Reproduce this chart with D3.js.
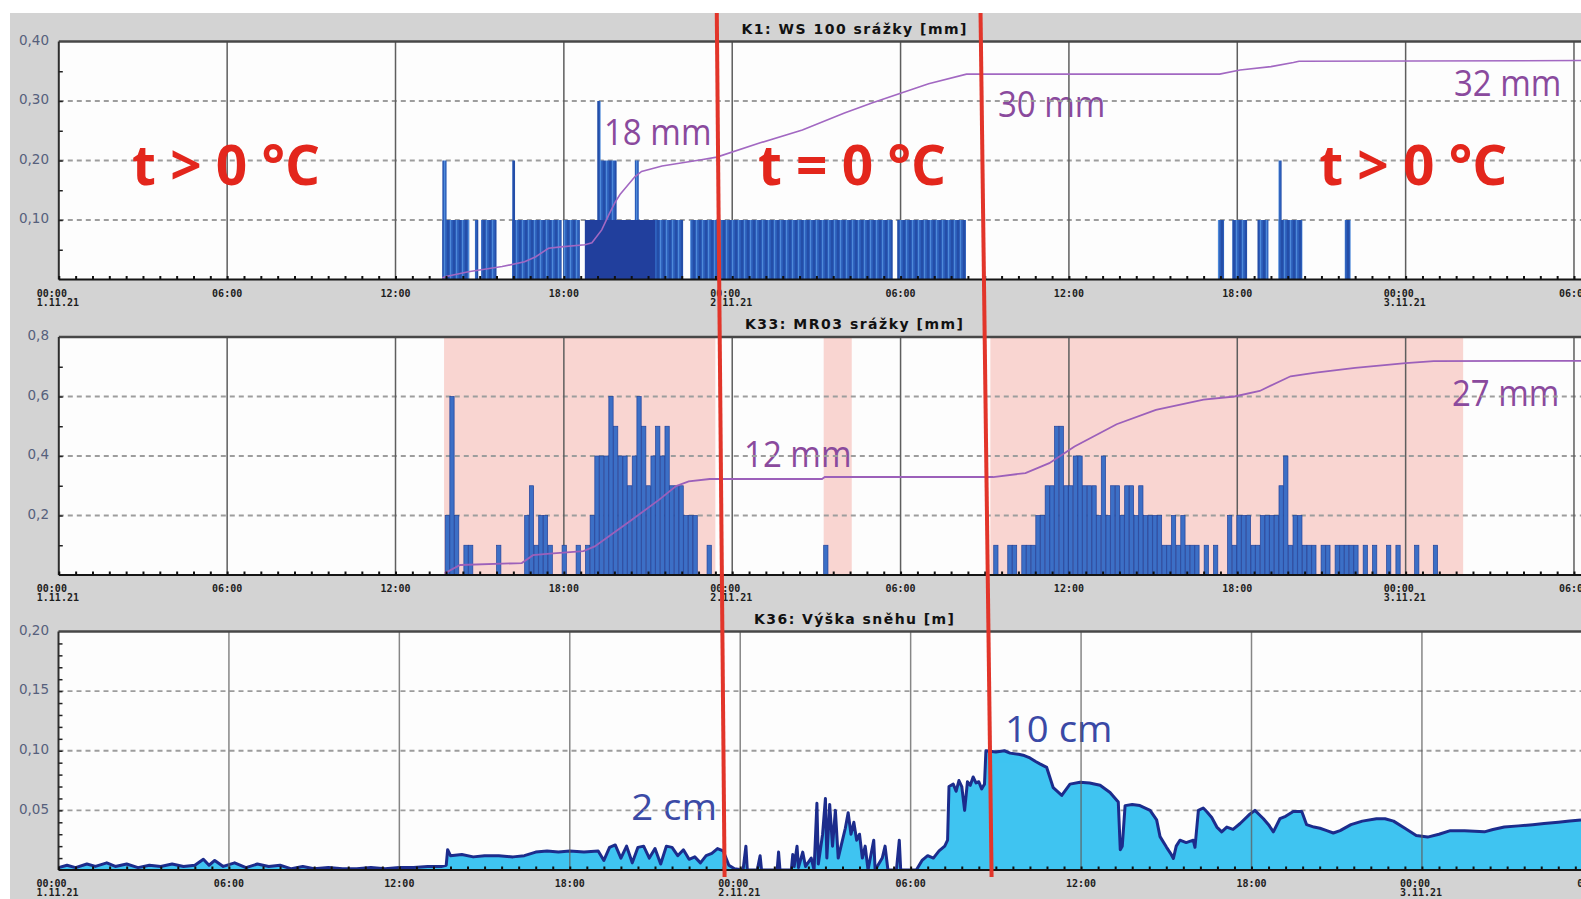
<!DOCTYPE html>
<html>
<head>
<meta charset="utf-8">
<script src="https://cdn.jsdelivr.net/npm/d3@7"></script>
<style>
  body { margin: 0; background: #fff; }
  svg { display: block; }
</style>
</head>
<body>
<svg id="chart"></svg>
<script>
// ---- data (hours counted from 1.11.21 00:00) ----
const titles = ["K1: WS 100 srážky [mm]", "K33: MR03 srážky [mm]", "K36: Výška sněhu [m]"];

const xTickHours = [0, 6, 12, 18, 24, 30, 36, 42, 48, 54];
const xTickTimes = ["00:00", "06:00", "12:00", "18:00", "00:00", "06:00", "12:00", "18:00", "00:00", "06:00"];
const xTickDates = ["1.11.21", "", "", "", "2.11.21", "", "", "", "3.11.21", ""];

const yTicksK1 = [0.1, 0.2, 0.3, 0.4];
const yTicksK33 = [0.2, 0.4, 0.6, 0.8];
const yTicksK36 = [0.05, 0.10, 0.15, 0.20];

// K1 rain gauge: runs of bars [from h, to h, value mm]
const k1Runs = [
  [13.67, 13.82, 0.2], [16.16, 16.26, 0.2], [19.19, 19.31, 0.3], [19.23, 19.88, 0.2],
  [20.53, 20.67, 0.2], [43.47, 43.58, 0.2],
  [13.67, 14.63, 0.1], [14.83, 14.95, 0.1], [15.05, 15.6, 0.1], [16.16, 17.92, 0.1],
  [17.98, 18.57, 0.1], [18.75, 22.25, 0.1], [22.5, 29.72, 0.1], [29.88, 32.33, 0.1],
  [41.31, 41.53, 0.1], [41.82, 42.35, 0.1], [42.72, 43.11, 0.1], [43.47, 44.32, 0.1],
  [45.83, 46.04, 0.1]
];
const k1DenseRuns = [[18.75, 21.25, 0.1]];
// K1 cumulative sum [h, mm]
const k1Cum = [
  [13.67, 0.2], [13.76, 0.4], [14.6, 1.15], [15.8, 1.9], [16.6, 2.6], [17.0, 3.35],
  [17.45, 4.6], [17.9, 4.8], [18.75, 5.1], [19.0, 5.4], [19.35, 7.3], [19.6, 9.5],
  [19.82, 11.3], [20.0, 12.5], [20.53, 15.1], [20.77, 15.9], [21.5, 16.7], [22.9, 17.6],
  [23.45, 18.0], [25.0, 20.1], [26.5, 22.0], [28.0, 24.5], [29.0, 26.0], [30.0, 27.4],
  [31.0, 28.8], [32.35, 30.2], [41.37, 30.2], [42.1, 30.8], [43.2, 31.3], [44.0, 31.9],
  [44.2, 32.1], [54.3, 32.2]
];

// K33 rain gauge: 10-minute sums in tenths of mm
const k33StartA = 13.77;
const k33TenthsA = [2,6,2,0,1,1,0,0,0,0, 0,1,0,0,0,0,0,2,3,1, 2,2,1,0,0,1,0,0,1,0,
  1,2,4,4,4,6,5,4,4,3, 4,6,5,3,4,5,4,5,3,3, 3,2,2,2,0,0,1];
const k33StartB = 27.26;
const k33TenthsB = [1];
const k33StartC = 33.32;
const k33TenthsC = [1,0,0,1,1,0,1,1,1,2, 2,3,3,5,5,3,3,4,4,3, 3,3,2,4,2,3,3,2,3,3,
  2,3,2,2,2,2,1,1,2,1, 2,1,1,1,0,1,0,1,0,0, 2,1,2,2,2,1,1,2,2,2, 2,3,4,1,2,2,1,1,1,0,
  1,1,0,1,1,1,1,1,0,1, 0,1,0,0,1,0,1,0,0,0, 1,0,0,0,1];
const k33Cum = [
  [13.75, 0.2], [14.3, 1.26], [16.5, 1.5], [16.9, 2.5], [17.5, 2.7], [18.7, 3.0], [19.1, 3.6],
  [20.4, 6.9], [21.4, 9.5], [22.0, 11.2], [22.45, 11.8], [23.2, 12.1], [27.2, 12.1], [27.3, 12.35],
  [33.3, 12.35], [34.45, 12.85], [35.3, 14.1], [36.2, 16.2], [37.7, 19.0], [39.1, 20.8],
  [40.8, 22.1], [41.9, 22.5], [42.8, 23.2], [43.9, 25.05], [44.8, 25.5], [46.2, 26.1],
  [48.0, 26.7], [49.0, 26.95], [54.3, 27.0]
];
// shaded periods in K33 [from h, to h]
const k33Shade = [[13.73, 23.4], [27.26, 28.26], [33.2, 50.05]];

// K36 snow depth [h, m]
const k36Snow = [
  [0,0.002],[0.3,0.004],[0.6,0.002],[1.0,0.005],[1.3,0.003],[1.7,0.006],[2.0,0.003],[2.4,0.005],
  [2.8,0.002],[3.2,0.004],[3.6,0.003],[4.0,0.005],[4.4,0.003],[4.8,0.004],[5.1,0.009],[5.3,0.004],
  [5.5,0.008],[5.8,0.003],[6.2,0.006],[6.6,0.002],[7.0,0.005],[7.4,0.003],[7.8,0.004],[8.2,0.001],
  [8.6,0.003],[9.0,0.001],[9.5,0.002],[10,0.001],[10.5,0.001],[11,0.002],[11.5,0.001],[12,0.002],
  [12.5,0.002],[13,0.003],[13.5,0.003],[13.65,0.004],
  [13.7,0.017],[13.8,0.012],[14.2,0.013],[14.6,0.011],[15.0,0.012],[15.5,0.012],[16.0,0.011],
  [16.4,0.012],[16.8,0.015],[17.2,0.016],[17.6,0.015],[18.0,0.016],[18.5,0.015],[19.0,0.016],
  [19.2,0.008],[19.4,0.019],[19.6,0.021],[19.8,0.01],[20.0,0.02],[20.2,0.006],[20.4,0.019],
  [20.6,0.02],[20.8,0.01],[21.0,0.018],[21.2,0.005],[21.4,0.02],[21.6,0.019],[21.8,0.012],
  [22.0,0.017],[22.2,0.009],[22.4,0.011],[22.6,0.006],[22.8,0.012],[23.0,0.014],[23.2,0.018],
  [23.4,0.016],[23.6,0.004],[23.8,0.001],
  [24.1,0.0],[24.2,0.02],[24.25,0.0],[24.6,0.0],[24.7,0.012],[24.75,0],[25.3,0],[25.35,0.015],
  [25.4,0],[25.8,0],[25.85,0.013],[25.9,0.003],[26.0,0.02],[26.05,0.002],[26.2,0.015],[26.3,0.003],
  [26.5,0.01],[26.6,0.0],[26.7,0.056],[26.75,0.005],[26.9,0.03],[27.0,0.06],[27.05,0.01],
  [27.15,0.055],[27.25,0.02],[27.35,0.05],[27.45,0.01],[27.55,0.02],[27.7,0.035],[27.8,0.048],
  [27.9,0.03],[28.0,0.04],[28.1,0.025],[28.2,0.03],[28.3,0.01],[28.4,0.02],[28.5,0.0],[28.7,0.025],
  [28.75,0],[29.0,0.01],[29.1,0.02],[29.2,0],[29.5,0.0],[29.6,0.025],[29.65,0],[30.2,0],
  [30.4,0.008],[30.6,0.012],[30.8,0.01],[31.0,0.016],[31.2,0.02],[31.3,0.025],[31.35,0.07],
  [31.5,0.072],[31.6,0.066],[31.7,0.075],[31.8,0.07],[31.9,0.05],[32.0,0.074],[32.1,0.071],
  [32.2,0.078],[32.3,0.073],[32.4,0.074],[32.5,0.068],[32.55,0.07],[32.6,0.072],[32.65,0.1],
  [33.0,0.099],[33.3,0.1],[33.5,0.098],[33.8,0.097],[34.0,0.096],[34.2,0.094],[34.4,0.091],
  [34.55,0.089],[34.79,0.086],[35.02,0.069],[35.32,0.0625],[35.61,0.072],[35.96,0.0735],
  [36.3,0.073],[36.67,0.071],[37.02,0.065],[37.31,0.057],[37.38,0.017],[37.45,0.02],[37.55,0.054],
  [37.8,0.055],[38.07,0.054],[38.43,0.05],[38.66,0.042],[38.78,0.028],[39.01,0.019],[39.15,0.014],
  [39.25,0.0097],[39.35,0.02],[39.48,0.025],[39.7,0.023],[39.95,0.025],[40.01,0.019],[40.13,0.05],
  [40.3,0.052],[40.42,0.049],[40.6,0.044],[40.78,0.036],[40.95,0.032],[41.13,0.036],[41.35,0.034],
  [41.6,0.039],[41.95,0.047],[42.12,0.05],[42.25,0.047],[42.42,0.043],[42.6,0.038],[42.77,0.032],
  [43.0,0.043],[43.2,0.045],[43.47,0.049],[43.77,0.049],[43.94,0.038],[44.2,0.036],[44.41,0.035],
  [44.65,0.033],[44.88,0.031],[45.12,0.033],[45.5,0.038],[45.9,0.041],[46.4,0.043],[46.7,0.043],
  [47.0,0.041],[47.4,0.035],[47.8,0.029],[48.2,0.0276],[48.6,0.03],[49.0,0.033],[49.5,0.033],
  [50.2,0.032],[50.5,0.034],[50.9,0.036],[51.4,0.037],[51.9,0.038],[52.3,0.039],[52.8,0.04],
  [53.2,0.041],[53.6,0.042]
];

// freezing period boundaries (hours)
const freezeMarks = [23.45, 32.85];

// annotations: panel, anchor hour, anchor value
const tempNotes = [
  { panel: 0, h: 2.61, v: 0.159, text: "t > 0 °C" },
  { panel: 0, h: 24.92, v: 0.159, text: "t = 0 °C" },
  { panel: 0, h: 44.92, v: 0.159, text: "t > 0 °C" }
];
const sumNotes = [
  { panel: 0, h: 19.43, v: 0.226, text: "18 mm" },
  { panel: 0, h: 33.47, v: 0.273, text: "30 mm" },
  { panel: 0, h: 49.72, v: 0.308, text: "32 mm" },
  { panel: 1, h: 24.42, v: 0.363, text: "12 mm" },
  { panel: 1, h: 49.65, v: 0.568, text: "27 mm" },
  { panel: 2, h: 20.16, v: 0.0419, text: "2 cm" },
  { panel: 2, h: 33.32, v: 0.1073, text: "10 cm" }
];

// ---- drawing ----
const W = 1581, H = 899;
const svg = d3.select("#chart").attr("width", W).attr("height", H);
const cz = d3.formatLocale({ decimal: ",", thousands: " ", grouping: [3], currency: ["", ""] });

svg.append("rect").attr("width", W).attr("height", H).attr("fill", "#fff");
svg.append("rect").attr("x", 10).attr("y", 13).attr("width", W - 10).attr("height", H - 13).attr("fill", "#d3d3d3");

const defs = svg.append("defs");
const pat = defs.append("pattern").attr("id", "k1stripe")
  .attr("patternUnits", "userSpaceOnUse").attr("width", 6).attr("height", 10);
pat.append("rect").attr("width", 6).attr("height", 10).attr("fill", "#2b5dba");
pat.append("rect").attr("x", 0).attr("width", 1.2).attr("height", 10).attr("fill", "#4e8ad9");
pat.append("rect").attr("x", 3.5).attr("width", 1).attr("height", 10).attr("fill", "#1d3f97");

const xTop = d3.scaleLinear().domain([0, 54.25]).range([58.8, W]);
const xBot = d3.scaleLinear().domain([0, 53.6]).range([58.5, W]);

const panels = [
  { x: xTop, y: d3.scaleLinear().domain([0, 0.4]).range([279.5, 41.5]), ticks: yTicksK1, minor: 0.05, fmt: ".2f", titleLen: 225 },
  { x: xTop, y: d3.scaleLinear().domain([0, 0.8]).range([575, 337]), ticks: yTicksK33, minor: 0.1, fmt: ".1f", titleLen: 218 },
  { x: xBot, y: d3.scaleLinear().domain([0, 0.2]).range([870, 631.5]), ticks: yTicksK36, minor: 0.01, fmt: ".2f", titleLen: 200 }
];

const tenthsToBars = (start, tenths) => tenths.map((t, i) => [start + i / 6, t / 10]);
const k33Bars = tenthsToBars(k33StartA, k33TenthsA)
  .concat(tenthsToBars(k33StartB, k33TenthsB))
  .concat(tenthsToBars(k33StartC, k33TenthsC))
  .filter(d => d[1] > 0);

panels.forEach((p, i) => {
  const x = p.x, y = p.y;
  const x0 = x.range()[0], y0 = y.range()[0], y1 = y.range()[1];
  const g = svg.append("g");

  defs.append("clipPath").attr("id", "clip" + i)
    .append("rect").attr("x", x0).attr("y", y1).attr("width", W - x0).attr("height", y0 - y1);

  g.append("rect").attr("x", x0).attr("y", y1).attr("width", W - x0).attr("height", y0 - y1).attr("fill", "#fdfdfd");

  const plot = g.append("g").attr("clip-path", `url(#clip${i})`);

  if (i === 1) {
    plot.selectAll(".shade").data(k33Shade).join("rect")
      .attr("x", d => x(d[0])).attr("width", d => x(d[1]) - x(d[0]))
      .attr("y", y1).attr("height", y0 - y1).attr("fill", "#f9d5d1");
  }

  // purple / blue sums sit under the grid
  plot.selectAll(".sum").data(sumNotes.filter(n => n.panel === i)).join("text")
    .attr("x", d => x(d.h)).attr("y", d => y(d.v))
    .attr("font-family", "'Open Sans', 'Noto Sans', sans-serif")
    .attr("font-size", 37)
    .attr("textLength", d => d.text.length * 21.5)
    .attr("lengthAdjust", "spacingAndGlyphs")
    .attr("fill", i === 2 ? "#3b4aa6" : "#8a4a9d")
    .text(d => d.text);

  const vHours = xTickHours.filter(h => h > 0 && x(h) <= W);

  plot.selectAll(".hgrid").data(p.ticks.filter(t => t < y.domain()[1])).join("line")
    .attr("x1", x0).attr("x2", W).attr("y1", d => y(d)).attr("y2", d => y(d))
    .attr("stroke", "#9d9d9d").attr("stroke-width", 1.8).attr("stroke-dasharray", "5,4");

  const vgrid = sel => sel.selectAll(".vgrid").data(vHours).join("line")
    .attr("x1", d => x(d)).attr("x2", d => x(d)).attr("y1", y1).attr("y2", y0)
    .attr("stroke", "#5e5e5e").attr("stroke-width", 1.5);

  if (i < 2) vgrid(plot.append("g"));

  if (i === 0) {
    const runs = k1Runs.slice().sort((a, b) => b[2] - a[2]);
    plot.selectAll(".k1").data(runs).join("rect")
      .attr("x", d => x(d[0])).attr("width", d => Math.max(1.4, x(d[1]) - x(d[0])))
      .attr("y", d => y(d[2])).attr("height", d => y0 - y(d[2]))
      .attr("fill", "url(#k1stripe)");
    plot.selectAll(".k1d").data(k1DenseRuns).join("rect")
      .attr("x", d => x(d[0])).attr("width", d => x(d[1]) - x(d[0]))
      .attr("y", d => y(d[2])).attr("height", d => y0 - y(d[2]))
      .attr("fill", "#213f9d");
    const cum = d3.scaleLinear().domain([0, 35]).range(y.range());
    plot.append("path").datum(k1Cum)
      .attr("d", d3.line().x(d => x(d[0])).y(d => cum(d[1])))
      .attr("fill", "none").attr("stroke", "#a268c2").attr("stroke-width", 1.6);
  }

  if (i === 1) {
    const bw = x(1 / 6) - x(0);
    plot.selectAll(".k33").data(k33Bars).join("rect")
      .attr("x", d => x(d[0])).attr("width", bw - 0.4)
      .attr("y", d => y(d[1])).attr("height", d => y0 - y(d[1]))
      .attr("fill", "#3c6fc6").attr("stroke", "#21429a").attr("stroke-width", 0.7);
    const cum = d3.scaleLinear().domain([0, 30]).range(y.range());
    plot.append("path").datum(k33Cum)
      .attr("d", d3.line().x(d => x(d[0])).y(d => cum(d[1])))
      .attr("fill", "none").attr("stroke", "#9c60ba").attr("stroke-width", 1.8);
  }

  if (i === 2) {
    plot.append("path").datum(k36Snow)
      .attr("d", d3.area().x(d => x(d[0])).y0(y0).y1(d => y(d[1])))
      .attr("fill", "#3fc4f1");
    plot.append("path").datum(k36Snow)
      .attr("d", d3.line().x(d => x(d[0])).y(d => y(d[1])))
      .attr("fill", "none").attr("stroke", "#1c2c8c").attr("stroke-width", 3)
      .attr("stroke-linejoin", "round");
    vgrid(plot.append("g").attr("opacity", 0.75));
  }

  // frame and axes
  g.append("line").attr("x1", x0).attr("x2", W).attr("y1", y1).attr("y2", y1)
    .attr("stroke", "#474747").attr("stroke-width", 2.5);
  g.append("line").attr("x1", x0).attr("x2", W).attr("y1", y0).attr("y2", y0)
    .attr("stroke", "#151515").attr("stroke-width", 2);
  g.append("line").attr("x1", x0).attr("x2", x0).attr("y1", y1).attr("y2", y0)
    .attr("stroke", "#2e2e2e").attr("stroke-width", 2);

  // minor ticks on x (10 per 6 h)
  const xMinor = d3.range(0, x.domain()[1], 0.6);
  g.append("g").attr("transform", `translate(0,${y0})`)
    .call(d3.axisTop(x).tickValues(xMinor).tickSize(3.5).tickFormat(""))
    .call(a => a.select(".domain").remove())
    .call(a => a.selectAll("line").attr("stroke", "#111").attr("stroke-width", 2));

  // minor ticks on y, pointing inward
  const yMinor = d3.range(p.minor, y.domain()[1], p.minor);
  g.append("g").attr("transform", `translate(${x0},0)`)
    .call(d3.axisRight(y).tickValues(yMinor).tickSize(4).tickFormat(""))
    .call(a => a.select(".domain").remove())
    .call(a => a.selectAll("line").attr("stroke", "#222").attr("stroke-width", 1.5));

  // y labels
  g.append("g").attr("transform", `translate(49,0)`)
    .call(d3.axisLeft(y).tickValues(p.ticks).tickSize(0).tickPadding(0).tickFormat(cz.format(p.fmt)))
    .call(a => a.select(".domain").remove())
    .call(a => a.selectAll("text")
      .attr("font-family", "'DejaVu Sans', Verdana, sans-serif")
      .attr("font-size", 13.5).attr("fill", "#56607c").attr("dy", "0.2em"));

  // x labels
  const lab = g.append("g")
    .attr("font-family", "'DejaVu Sans Mono', monospace")
    .attr("font-weight", "bold").attr("font-size", 10).attr("fill", "#1d1d1d");
  xTickHours.forEach((h, k) => {
    const px = x(h);
    if (px > W + 20) return;
    const dated = xTickDates[k] !== "";
    lab.append("text")
      .attr("x", dated ? px - 22 : px).attr("y", y0 + 17)
      .attr("text-anchor", dated ? "start" : "middle")
      .text(xTickTimes[k]);
    if (dated) {
      lab.append("text").attr("x", px - 22).attr("y", y0 + 26).text(xTickDates[k]);
    }
  });

  // title
  g.append("text")
    .attr("x", 854).attr("y", y1 - 8)
    .attr("text-anchor", "middle")
    .attr("font-family", "'DejaVu Sans', Verdana, sans-serif")
    .attr("font-weight", "bold").attr("font-size", 14)
    .attr("textLength", p.titleLen).attr("lengthAdjust", "spacing")
    .attr("fill", "#111")
    .text(titles[i]);

  // temperature regime labels
  g.selectAll(".temp").data(tempNotes.filter(n => n.panel === i)).join("text")
    .attr("x", d => x(d.h)).attr("y", d => y(d.v))
    .attr("font-family", "'Open Sans', 'Noto Sans', sans-serif")
    .attr("font-weight", "bold").attr("font-size", 55)
    .attr("textLength", 188).attr("lengthAdjust", "spacing")
    .attr("fill", "#e3261c")
    .text(d => d.text);
});

// red boundaries of the freezing period, across all three panels
svg.selectAll(".freeze").data(freezeMarks).join("line")
  .attr("x1", d => xTop(d)).attr("y1", 13)
  .attr("x2", d => xBot(d)).attr("y2", 877)
  .attr("stroke", "#e2352a").attr("stroke-width", 4);
</script>
</body>
</html>
